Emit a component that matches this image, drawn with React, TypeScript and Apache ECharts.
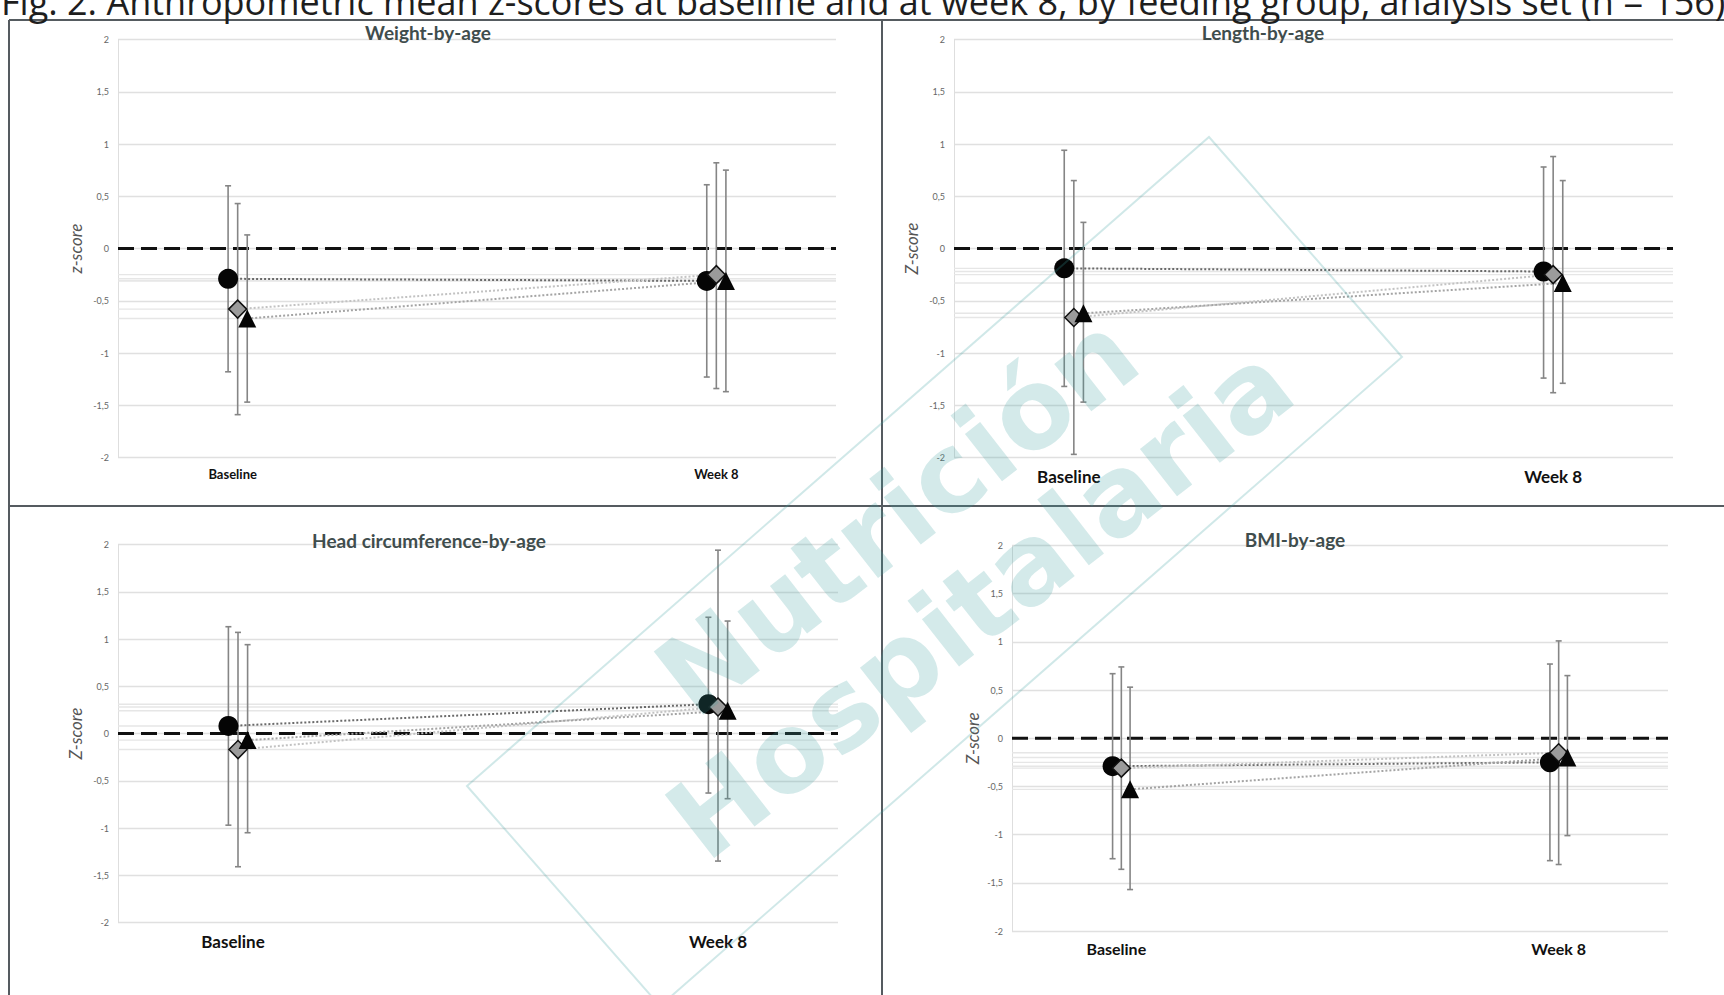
import React, { useEffect, useRef } from 'react';
import * as echarts from 'echarts';

// ---------- text ----------
const CAPTION =
  'Fig. 2. Anthropometric mean z-scores at baseline and at week 8, by feeding group, analysis set (n = 156)';
const TIMEPOINTS = ['Baseline', 'Week 8'];
const GROUPS = ['Group 1', 'Group 2', 'Group 3'];
const PANEL_TITLES = ['Weight-by-age', 'Length-by-age', 'Head circumference-by-age', 'BMI-by-age'];
const Y_AXIS_NAMES = ['z-score', 'Z-score', 'Z-score', 'Z-score'];
const WATERMARK = ['Nutrición', 'Hospitalaria'];
const Y_MIN = -2;
const Y_MAX = 2;
const Y_STEP = 0.5;

// ---------- values: rows = groups (circle, diamond, triangle); columns = [Baseline, Week 8] ----------
const weightMean = [[-0.29, -0.31], [-0.58, -0.25], [-0.67, -0.31]];
const weightLow = [[-1.18, -1.23], [-1.59, -1.34], [-1.47, -1.37]];
const weightHigh = [[0.6, 0.61], [0.43, 0.82], [0.13, 0.75]];

const lengthMean = [[-0.19, -0.22], [-0.66, -0.25], [-0.62, -0.33]];
const lengthLow = [[-1.32, -1.24], [-1.97, -1.38], [-1.47, -1.29]];
const lengthHigh = [[0.94, 0.78], [0.65, 0.88], [0.25, 0.65]];

const headMean = [[0.08, 0.31], [-0.17, 0.28], [-0.07, 0.24]];
const headLow = [[-0.97, -0.63], [-1.41, -1.35], [-1.05, -0.69]];
const headHigh = [[1.13, 1.23], [1.07, 1.94], [0.94, 1.19]];

const bmiMean = [[-0.29, -0.25], [-0.31, -0.15], [-0.53, -0.2]];
const bmiLow = [[-1.25, -1.27], [-1.36, -1.31], [-1.57, -1.01]];
const bmiHigh = [[0.67, 0.77], [0.74, 1.01], [0.53, 0.65]];

// ---------- layout & style ----------
const X_MIN = 0;
const X_MAX = 6;
const TIME_X = [1, 5];
const GROUP_OFFSET = [-0.08, 0, 0.08];
const SYMBOLS = ['circle', 'diamond', 'triangle'];
const SYMBOL_SIZE = [20, 18, 18];
const SYMBOL_FILL = ['#050505', '#9b9b9b', '#050505'];
const LINK_COLOR = ['#6a6a6a', '#c2c2c2', '#a4a4a4'];

const LAYOUT = [
  { left: 118, top: 39.5, width: 718, height: 418, titleX: 428, titleY: 32, titleSize: 19, labelSize: 13, labelMargin: 10, nameGap: 34 },
  { left: 954, top: 39.5, width: 719, height: 418, titleX: 1263, titleY: 32, titleSize: 19, labelSize: 17, labelMargin: 10, nameGap: 34 },
  { left: 118, top: 544.5, width: 720, height: 378, titleX: 429, titleY: 540, titleSize: 19, labelSize: 17, labelMargin: 10, nameGap: 34 },
  { left: 1012, top: 545.5, width: 656, height: 385.5, titleX: 1295, titleY: 539, titleSize: 19, labelSize: 16, labelMargin: 9, nameGap: 31 },
];

const FONT = 'Lato, "Open Sans", sans-serif';

function buildOption() {
  const panels = [
    { mean: weightMean, low: weightLow, high: weightHigh },
    { mean: lengthMean, low: lengthLow, high: lengthHigh },
    { mean: headMean, low: headLow, high: headHigh },
    { mean: bmiMean, low: bmiLow, high: bmiHigh },
  ];

  const grid: any[] = [];
  const xAxis: any[] = [];
  const yAxis: any[] = [];
  const series: any[] = [];
  const graphic: any[] = [];

  panels.forEach((p, i) => {
    const L = LAYOUT[i];
    grid.push({ left: L.left, top: L.top, width: L.width, height: L.height, containLabel: false });
    const labelStyle = { fontSize: L.labelSize, fontWeight: 'bold', fontFamily: FONT, color: '#111' };
    xAxis.push({
      type: 'value',
      gridIndex: i,
      min: X_MIN,
      max: X_MAX,
      interval: 1,
      axisLine: { show: false },
      axisTick: { show: false },
      splitLine: { show: false },
      axisLabel: {
        margin: L.labelMargin,
        ...labelStyle,
        formatter: (v: number) =>
          v === TIME_X[0] ? '{b|' + TIMEPOINTS[0] + '}' : v === TIME_X[1] ? '{w|' + TIMEPOINTS[1] + '}' : '',
        rich: {
          b: { ...labelStyle, padding: [0, 10, 0, 0] },
          w: { ...labelStyle },
        },
      },
    });
    yAxis.push({
      type: 'value',
      gridIndex: i,
      min: Y_MIN,
      max: Y_MAX,
      interval: Y_STEP,
      name: Y_AXIS_NAMES[i],
      nameLocation: 'middle',
      nameGap: L.nameGap,
      nameTextStyle: { fontStyle: 'italic', fontSize: 17, color: '#555', fontFamily: FONT },
      axisLine: { show: true, lineStyle: { color: '#dedede', width: 1 } },
      axisTick: { show: false },
      splitLine: { show: true, lineStyle: { color: '#e0e0e0', width: 1.4 } },
      axisLabel: {
        fontSize: 9,
        color: '#666',
        fontFamily: FONT,
        margin: 9,
        formatter: (v: number) => String(v).replace('.', ','),
      },
    });

    // faint guide lines at each mean (spreadsheet artefact)
    const guideData: number[][] = [];
    p.mean.forEach((row) => row.forEach((m) => guideData.push([X_MIN, m])));
    series.push({
      type: 'custom',
      name: 'guides',
      xAxisIndex: i,
      yAxisIndex: i,
      z: 1,
      silent: true,
      data: guideData,
      renderItem: (params: any, api: any) => {
        const cs = params.coordSys;
        const y = api.coord([X_MIN, api.value(1)])[1];
        return {
          type: 'line',
          shape: { x1: cs.x, y1: y, x2: cs.x + cs.width, y2: y },
          style: { stroke: '#e6e6e6', lineWidth: 1.4 },
        };
      },
    });

    // zero reference line
    series.push({
      type: 'line',
      name: 'zero',
      xAxisIndex: i,
      yAxisIndex: i,
      z: 2,
      silent: true,
      symbol: 'none',
      data: [[X_MIN, 0], [X_MAX, 0]],
      lineStyle: { color: '#111', width: 3, type: [16, 7] },
    });

    // error bars
    const errData: number[][] = [];
    GROUPS.forEach((_, g) => {
      TIME_X.forEach((tx, t) => {
        errData.push([tx + GROUP_OFFSET[g], p.low[g][t], p.high[g][t]]);
      });
    });
    series.push({
      type: 'custom',
      name: 'SD',
      xAxisIndex: i,
      yAxisIndex: i,
      z: 3,
      silent: true,
      data: errData,
      encode: { x: 0, y: [1, 2] },
      renderItem: (_params: any, api: any) => {
        const x = api.value(0);
        const lo = api.coord([x, api.value(1)]);
        const hi = api.coord([x, api.value(2)]);
        const cap = 3;
        const st = { stroke: '#858585', lineWidth: 1.6 };
        return {
          type: 'group',
          children: [
            { type: 'line', shape: { x1: lo[0], y1: lo[1], x2: hi[0], y2: hi[1] }, style: st },
            { type: 'line', shape: { x1: lo[0] - cap, y1: lo[1], x2: lo[0] + cap, y2: lo[1] }, style: st },
            { type: 'line', shape: { x1: hi[0] - cap, y1: hi[1], x2: hi[0] + cap, y2: hi[1] }, style: st },
          ],
        };
      },
    });

    // connecting dotted lines
    GROUPS.forEach((name, g) => {
      series.push({
        type: 'line',
        name: name + ' trend',
        xAxisIndex: i,
        yAxisIndex: i,
        z: 4,
        silent: true,
        symbol: 'none',
        data: TIME_X.map((tx, t) => [tx + GROUP_OFFSET[g], p.mean[g][t]]),
        lineStyle: { color: LINK_COLOR[g], width: 2, type: [2, 2] },
      });
    });

    // markers
    GROUPS.forEach((name, g) => {
      series.push({
        type: 'scatter',
        name,
        xAxisIndex: i,
        yAxisIndex: i,
        z: 5,
        symbol: SYMBOLS[g],
        symbolSize: SYMBOL_SIZE[g],
        data: TIME_X.map((tx, t) => [tx + GROUP_OFFSET[g], p.mean[g][t]]),
        itemStyle: { color: SYMBOL_FILL[g], borderColor: '#111', borderWidth: g === 1 ? 1.5 : 0, opacity: 1 },
      });
    });

    graphic.push({
      type: 'text',
      x: L.titleX,
      y: L.titleY,
      z: 10,
      style: {
        text: PANEL_TITLES[i],
        fontSize: L.titleSize,
        fontWeight: 'bold',
        fontFamily: FONT,
        fill: '#3f4d4d',
        align: 'center',
        verticalAlign: 'middle',
      },
    });
  });

  // panel borders
  const border = { stroke: '#555b60', lineWidth: 2 };
  graphic.push(
    { type: 'line', z: 20, shape: { x1: 9, y1: 20, x2: 1724, y2: 20 }, style: border },
    { type: 'line', z: 20, shape: { x1: 9, y1: 20, x2: 9, y2: 995 }, style: border },
    { type: 'line', z: 20, shape: { x1: 882, y1: 20, x2: 882, y2: 995 }, style: border },
    { type: 'line', z: 20, shape: { x1: 9, y1: 506, x2: 1724, y2: 506 }, style: border }
  );

  // caption (cut at the top of the page, as in the reference)
  graphic.push({
    type: 'text',
    x: 1,
    y: 1,
    z: 20,
    style: {
      text: CAPTION,
      fontSize: 36,
      fontFamily: '"Open Sans", sans-serif',
      fill: '#1e1e1e',
      align: 'left',
      verticalAlign: 'middle',
    },
  });

  // watermark
  const wmFill = 'rgba(60,160,160,0.22)';
  const rot = (38 * Math.PI) / 180;
  graphic.push(
    {
      type: 'polygon',
      z: 30,
      silent: true,
      shape: { points: [[467, 786], [1209, 137], [1402, 357], [660, 1006]] },
      style: { fill: 'none', stroke: 'rgba(60,160,160,0.24)', lineWidth: 2 },
    },
    {
      type: 'text',
      z: 30,
      silent: true,
      x: 897,
      y: 515,
      rotation: rot,
      style: { text: WATERMARK[0], fontSize: 110, fontWeight: 'bold', fontFamily: '"DejaVu Sans", sans-serif', fill: wmFill, align: 'center', verticalAlign: 'middle' },
    },
    {
      type: 'text',
      z: 30,
      silent: true,
      x: 980,
      y: 602,
      rotation: rot,
      style: { text: WATERMARK[1], fontSize: 110, fontWeight: 'bold', fontFamily: '"DejaVu Sans", sans-serif', fill: wmFill, align: 'center', verticalAlign: 'middle' },
    }
  );

  return {
    animation: false,
    backgroundColor: '#ffffff',
    textStyle: { fontFamily: FONT },
    grid,
    xAxis,
    yAxis,
    series,
    graphic,
  };
}

export default function App() {
  const ref = useRef<HTMLDivElement>(null);
  useEffect(() => {
    if (!ref.current) return;
    const chart = echarts.init(ref.current, undefined, { renderer: 'svg' });
    chart.setOption(buildOption() as any);
    return () => chart.dispose();
  }, []);
  return (
    <div
      ref={ref}
      style={{ position: 'absolute', left: 0, top: 0, width: 1724, height: 995, background: '#fff' }}
    />
  );
}
